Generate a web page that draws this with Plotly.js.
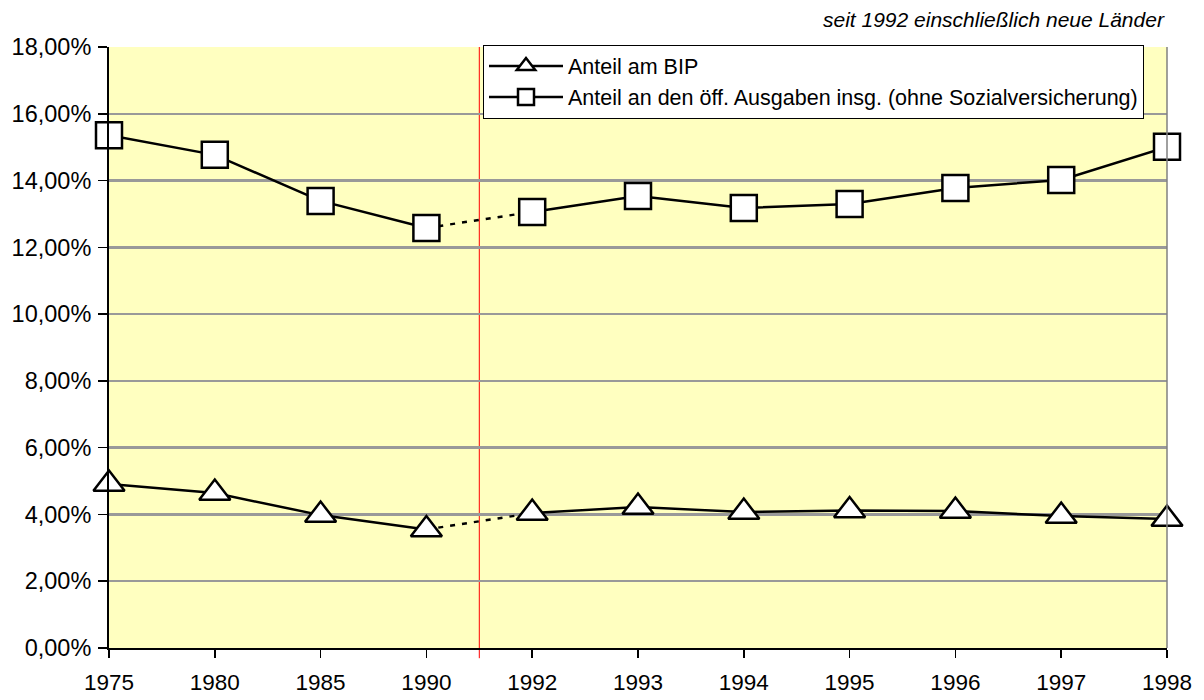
<!DOCTYPE html>
<html>
<head>
<meta charset="utf-8">
<script src="https://cdn.plot.ly/plotly-3.0.1.min.js"></script>
<style>body{margin:0;background:#fff}#chart{width:1204px;height:700px}</style>
</head>
<body>
<div id="chart"></div>
<script>
const years = ["1975","1980","1985","1990","1992","1993","1994","1995","1996","1997","1998"];
const anteilBIP = [4.91, 4.64, 3.98, 3.55, 4.04, 4.22, 4.07, 4.12, 4.10, 3.95, 3.86];
const anteilAusgaben = [15.36, 14.77, 13.39, 12.58, 13.06, 13.54, 13.18, 13.30, 13.78, 14.02, 15.01];
const seriesNames = ["Anteil am BIP", "Anteil an den öff. Ausgaben insg. (ohne Sozialversicherung)"];
const noteText = "seit 1992 einschließlich neue Länder";
const breakIndex = 4; // first year incl. neue Länder (1992)

const lineStyle = {color: '#000', width: 2.5};
function seg(arr, a, b) { return arr.slice(a, b); }

function seriesTraces(vals, name, symbol, size) {
  const mk = {symbol: symbol, size: size, color: '#fff', line: {color: '#000', width: 2.5}};
  return [
    {x: seg(years, breakIndex-1, breakIndex+1), y: seg(vals, breakIndex-1, breakIndex+1), mode: 'lines',
     line: {color: '#000', width: 2.5, dash: '5px,7px'}, showlegend: false, hoverinfo: 'skip', cliponaxis: false},
    {x: seg(years, 0, breakIndex), y: seg(vals, 0, breakIndex), mode: 'lines+markers', name: name,
     line: lineStyle, marker: mk, legendgroup: name, showlegend: true, cliponaxis: false},
    {x: seg(years, breakIndex), y: seg(vals, breakIndex), mode: 'lines+markers', name: name,
     line: lineStyle, marker: mk, legendgroup: name, showlegend: false, cliponaxis: false}
  ];
}

const data = [].concat(
  seriesTraces(anteilBIP, seriesNames[0], 'triangle-up', 27),
  seriesTraces(anteilAusgaben, seriesNames[1], 'square', 26)
);

const font = {family: 'Liberation Sans, Arial, sans-serif', color: '#000'};

const layout = {
  width: 1204, height: 700,
  margin: {l: 109, r: 37, t: 47, b: 52},
  paper_bgcolor: '#fff',
  plot_bgcolor: '#ffffc0',
  font: Object.assign({size: 23}, font),
  separators: ',.',
  showlegend: true,
  legend: {
    x: 0.3535, y: 1.004, xanchor: 'left', yanchor: 'top',
    bgcolor: '#fff', bordercolor: '#000', borderwidth: 1,
    font: Object.assign({size: 21.5}, font),
    itemwidth: 74, tracegroupgap: 0
  },
  xaxis: {
    type: 'category', categoryorder: 'array', categoryarray: years,
    range: [0, 10], fixedrange: true,
    showgrid: false, zeroline: false,
    showline: true, linecolor: '#000', linewidth: 2,
    ticks: 'outside', ticklen: 8, tickwidth: 1.5, tickcolor: '#000',
    ticklabelstandoff: 5,
    tickfont: Object.assign({size: 22.5}, font)
  },
  yaxis: {
    range: [0, 18], dtick: 2, tickformat: '.2f', ticksuffix: '%',
    showgrid: true, gridcolor: '#999', gridwidth: 2.5,
    zeroline: false,
    showline: true, linecolor: '#000', linewidth: 2,
    ticks: 'outside', ticklen: 9, tickwidth: 1.5, tickcolor: '#000',
    ticklabelstandoff: 2,
    tickfont: Object.assign({size: 23.5}, font)
  },
  shapes: [
    {type: 'line', xref: 'x', yref: 'paper', x0: breakIndex - 0.5, x1: breakIndex - 0.5, y0: -0.017, y1: 1,
     line: {color: '#ff0000', width: 1}, layer: 'below'},
    {type: 'line', xref: 'paper', yref: 'paper', x0: 1, x1: 1, y0: 0, y1: 1,
     line: {color: '#808080', width: 1.5}}
  ],
  annotations: [
    {text: '<i>' + noteText + '</i>', xref: 'paper', yref: 'paper', x: 1.0, y: 1.0, xanchor: 'right', yanchor: 'bottom',
     yshift: 14, showarrow: false, font: Object.assign({size: 21}, font)}
  ]
};

Plotly.newPlot('chart', data, layout, {displayModeBar: false, staticPlot: true});
</script>
</body>
</html>
